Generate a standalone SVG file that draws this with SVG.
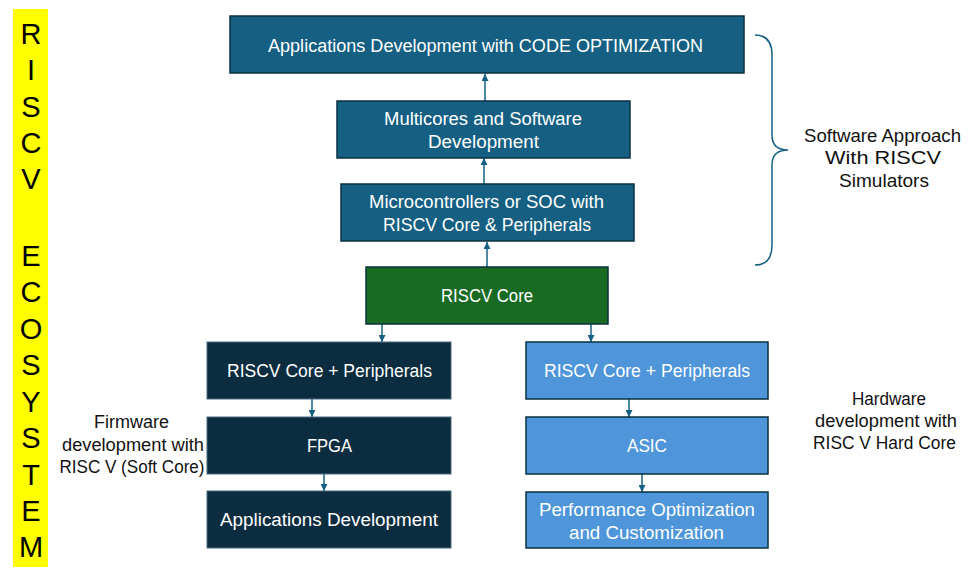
<svg xmlns="http://www.w3.org/2000/svg" width="974" height="584" viewBox="0 0 974 584">
  <defs>
    <marker id="arrow" markerUnits="userSpaceOnUse" markerWidth="7" markerHeight="7" refX="7" refY="3.5" orient="auto">
      <path d="M0,0 L7,3.5 L0,7 z" fill="#156082"/>
    </marker>
    <style>
      .box { stroke: #0A3041; stroke-width: 1.5; }
      .accent { fill: #156082; }
      .core { fill: #196B24; }
      .navy { fill: #0C2D40; stroke: #4A6A7E; stroke-width: 1; }
      .sky { fill: #4E95D9; }
      .lbl { font-family: "Liberation Sans", Arial, sans-serif; font-size: 18px; fill: #FFFFFF; text-anchor: middle; }
      .side { font-family: "Liberation Sans", Arial, sans-serif; font-size: 17.5px; fill: #111111; text-anchor: middle; }
      .vert { font-family: "Liberation Sans", Arial, sans-serif; font-size: 29px; fill: #000000; text-anchor: middle; }
      .link { stroke: #156082; stroke-width: 1.5; fill: none; marker-end: url(#arrow); }
    </style>
  </defs>

  <rect width="974" height="584" fill="#FFFFFF"/>

  <!-- Vertical title bar -->
  <g id="title">
    <rect x="13" y="9" width="35" height="558" fill="#FFFF00"/>
    <text class="vert" x="31" y="44">R</text>
    <text class="vert" x="31" y="80">I</text>
    <text class="vert" x="31" y="117">S</text>
    <text class="vert" x="31" y="153">C</text>
    <text class="vert" x="31" y="189">V</text>
    <text class="vert" x="31" y="266">E</text>
    <text class="vert" x="31" y="302">C</text>
    <text class="vert" x="31" y="339">O</text>
    <text class="vert" x="31" y="375">S</text>
    <text class="vert" x="31" y="412">Y</text>
    <text class="vert" x="31" y="448">S</text>
    <text class="vert" x="31" y="485">T</text>
    <text class="vert" x="31" y="521">E</text>
    <text class="vert" x="31" y="557">M</text>
  </g>

  <!-- Connectors -->
  <g id="connectors">
    <line class="link" x1="485" y1="101" x2="485" y2="74"/>
    <line class="link" x1="484" y1="184" x2="484" y2="158"/>
    <line class="link" x1="487" y1="267" x2="487" y2="242"/>
    <line class="link" x1="382" y1="324" x2="382" y2="342"/>
    <line class="link" x1="591" y1="324" x2="591" y2="342"/>
    <line class="link" x1="312" y1="399" x2="312" y2="417"/>
    <line class="link" x1="324" y1="474" x2="324" y2="491"/>
    <line class="link" x1="629" y1="399" x2="629" y2="417"/>
    <line class="link" x1="642" y1="474" x2="642" y2="492"/>
    <path id="brace" d="M755,35 Q772,35 772,55 L772,135 Q772,150 788,150 Q772,150 772,165 L772,245 Q772,265 755,265" stroke="#156082" stroke-width="1.5" fill="none"/>
  </g>

  <!-- Software stack -->
  <g id="apps-code-opt">
    <rect class="box accent" x="230" y="16" width="514" height="57"/>
    <text class="lbl" x="485.5" y="51.5" textLength="435" lengthAdjust="spacingAndGlyphs">Applications Development with CODE OPTIMIZATION</text>
  </g>
  <g id="multicores">
    <rect class="box accent" x="337" y="101" width="293" height="57"/>
    <text class="lbl" x="483" y="125" textLength="198" lengthAdjust="spacingAndGlyphs">Multicores and Software</text>
    <text class="lbl" x="483.5" y="148" textLength="111" lengthAdjust="spacingAndGlyphs">Development</text>
  </g>
  <g id="microcontrollers">
    <rect class="box accent" x="341" y="184" width="293" height="57"/>
    <text class="lbl" x="486.5" y="208" textLength="235" lengthAdjust="spacingAndGlyphs">Microcontrollers or SOC with</text>
    <text class="lbl" x="487" y="231" textLength="208" lengthAdjust="spacingAndGlyphs">RISCV Core &amp; Peripherals</text>
  </g>
  <g id="riscv-core">
    <rect class="box core" x="366" y="267" width="242" height="57"/>
    <text class="lbl" x="487" y="302" textLength="92" lengthAdjust="spacingAndGlyphs">RISCV Core</text>
  </g>

  <!-- Soft core branch -->
  <g id="soft-peripherals">
    <rect class="navy" x="207" y="342" width="244" height="57"/>
    <text class="lbl" x="329.5" y="377" textLength="205" lengthAdjust="spacingAndGlyphs">RISCV Core + Peripherals</text>
  </g>
  <g id="fpga">
    <rect class="navy" x="207" y="417" width="244" height="57"/>
    <text class="lbl" x="329.5" y="452" textLength="45" lengthAdjust="spacingAndGlyphs">FPGA</text>
  </g>
  <g id="apps-dev">
    <rect class="navy" x="207" y="491" width="244" height="57"/>
    <text class="lbl" x="329" y="526" textLength="218" lengthAdjust="spacingAndGlyphs">Applications Development</text>
  </g>

  <!-- Hard core branch -->
  <g id="hard-peripherals">
    <rect class="box sky" x="526" y="342" width="242" height="57"/>
    <text class="lbl" x="647" y="377" textLength="206" lengthAdjust="spacingAndGlyphs">RISCV Core + Peripherals</text>
  </g>
  <g id="asic">
    <rect class="box sky" x="526" y="417" width="242" height="57"/>
    <text class="lbl" x="647" y="452" textLength="40" lengthAdjust="spacingAndGlyphs">ASIC</text>
  </g>
  <g id="perf-opt">
    <rect class="box sky" x="526" y="492" width="242" height="56"/>
    <text class="lbl" x="647" y="516" textLength="216" lengthAdjust="spacingAndGlyphs">Performance Optimization</text>
    <text class="lbl" x="646.5" y="539" textLength="155" lengthAdjust="spacingAndGlyphs">and Customization</text>
  </g>

  <!-- Side notes -->
  <g id="software-note">
    <text class="side" x="882.5" y="141.5" textLength="157" lengthAdjust="spacingAndGlyphs">Software Approach</text>
    <text class="side" x="883" y="164" textLength="116" lengthAdjust="spacingAndGlyphs">With RISCV</text>
    <text class="side" x="884" y="186.5" textLength="90" lengthAdjust="spacingAndGlyphs">Simulators</text>
  </g>
  <g id="hardware-note">
    <text class="side" x="889" y="405" textLength="74" lengthAdjust="spacingAndGlyphs">Hardware</text>
    <text class="side" x="886" y="427" textLength="142" lengthAdjust="spacingAndGlyphs">development with</text>
    <text class="side" x="884.5" y="449" textLength="143" lengthAdjust="spacingAndGlyphs">RISC V Hard Core</text>
  </g>
  <g id="firmware-note">
    <text class="side" x="131.5" y="428" textLength="75" lengthAdjust="spacingAndGlyphs">Firmware</text>
    <text class="side" x="133" y="451" textLength="142" lengthAdjust="spacingAndGlyphs">development with</text>
    <text class="side" x="132" y="473" textLength="145" lengthAdjust="spacingAndGlyphs">RISC V (Soft Core)</text>
  </g>
</svg>
